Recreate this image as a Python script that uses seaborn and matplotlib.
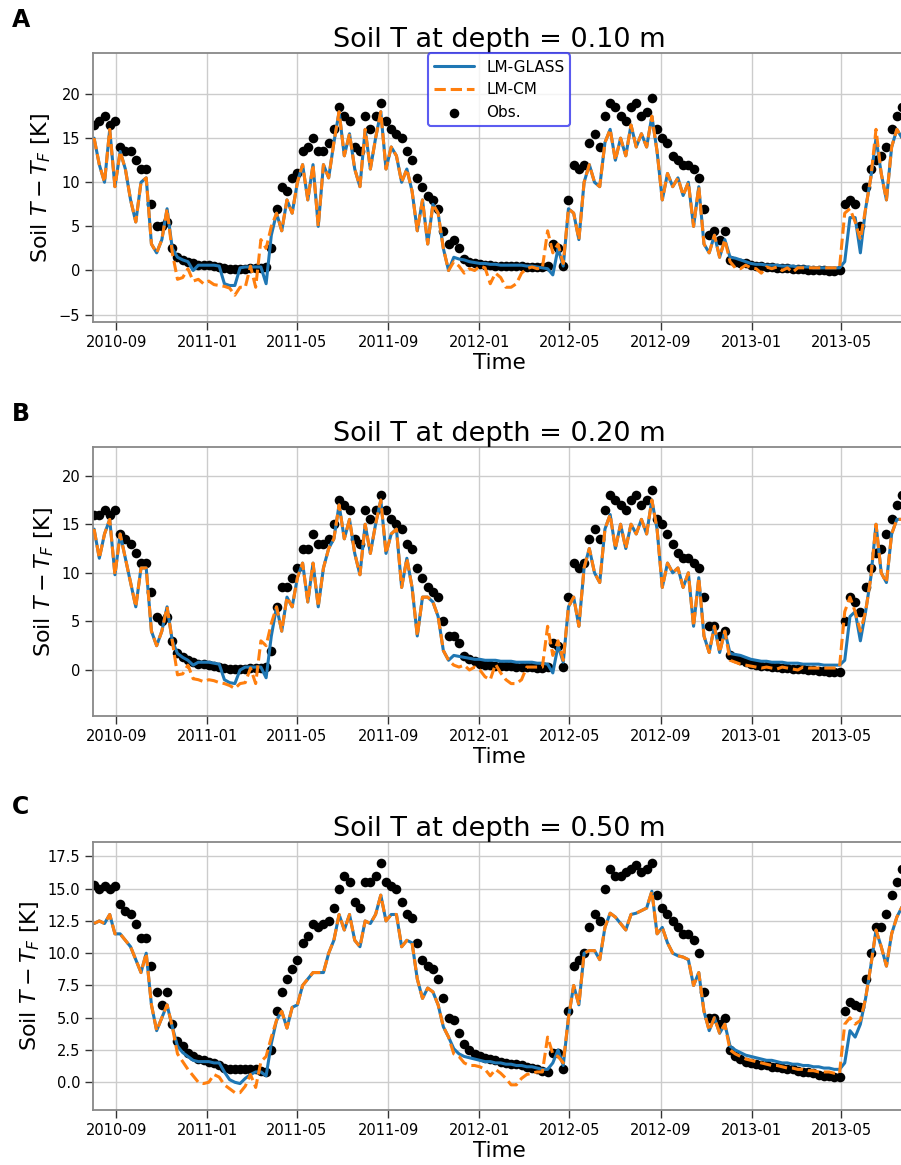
import numpy as np
import pandas as pd
import matplotlib
matplotlib.use("Agg")
import matplotlib.pyplot as plt
import matplotlib.dates as mdates
import seaborn as sns

# ---------------- data (weekly samples) ----------------
start_date = "2010-08-02"
step = "7D"
depths = ["0.10", "0.20", "0.50"]
panel_letters = ["A", "B", "C"]
series_labels = ["LM-GLASS", "LM-CM", "Obs."]

obs_A = [16.5, 17.0, 17.5, 16.5, 17.0, 14.0, 13.5, 13.5, 12.5, 11.5,
         11.5, 7.5, 5.0, 5.0, 5.5, 2.5, 1.5, 1.2, 1.0, 0.8,
         0.6, 0.6, 0.6, 0.5, 0.4, 0.3, 0.2, 0.2, 0.2, 0.2,
         0.3, 0.3, 0.3, 0.4, 2.5, 7.0, 9.5, 9.0, 10.5, 11.0,
         13.5, 14.0, 15.0, 13.5, 13.5, 14.5, 16.0, 18.5, 17.5, 17.0,
         14.0, 13.5, 17.5, 16.0, 17.5, 19.0, 17.0, 16.0, 15.5, 15.0,
         13.5, 12.5, 10.5, 9.5, 8.5, 8.0, 7.0, 4.5, 3.0, 3.5,
         2.5, 1.3, 1.0, 0.9, 0.7, 0.6, 0.6, 0.5, 0.5, 0.5,
         0.5, 0.5, 0.5, 0.4, 0.4, 0.4, 0.4, 0.5, 3.0, 2.5,
         0.5, 8.0, 12.0, 11.5, 12.0, 14.5, 15.5, 14.0, 17.5, 19.0,
         18.5, 17.5, 17.0, 18.5, 19.0, 17.5, 18.0, 19.5, 16.0, 15.0,
         14.5, 13.0, 12.5, 12.0, 12.0, 11.5, 10.5, 7.0, 4.0, 4.5,
         3.5, 4.5, 1.2, 1.0, 0.9, 0.8, 0.6, 0.5, 0.5, 0.4,
         0.4, 0.3, 0.3, 0.3, 0.2, 0.2, 0.2, 0.1, 0.1, 0.0,
         0.0, -0.1, -0.1, 0.0, 7.5, 8.0, 7.5, 5.0, 9.5, 11.5,
         12.5, 13.0, 14.0, 16.0, 17.5, 18.5]
glass_A = [15.0, 12.0, 10.0, 16.0, 9.5, 13.5, 11.5, 8.0, 5.5, 10.0,
           10.5, 3.0, 2.0, 3.5, 7.0, 2.5, 1.5, 1.2, 1.0, 0.0,
           0.6, 0.6, 0.6, 0.6, 0.5, -1.5, -1.7, -1.7, 0.3, 0.4,
           0.4, 0.4, 0.4, -1.5, 4.0, 6.5, 4.5, 8.0, 6.5, 10.0,
           12.0, 8.0, 12.0, 5.0, 12.0, 10.5, 14.5, 18.0, 13.0, 15.5,
           11.5, 9.5, 16.0, 11.5, 15.0, 18.0, 11.5, 14.0, 13.0, 10.0,
           11.5, 9.0, 4.5, 8.0, 3.0, 7.5, 6.5, 2.5, 0.0, 1.5,
           1.3, 1.2, 1.0, 0.9, 0.8, 0.8, 0.7, 0.7, 0.6, 0.6,
           0.6, 0.6, 0.6, 0.5, 0.5, 0.4, 0.3, 0.2, -0.5, 2.5,
           0.5, 7.0, 6.5, 3.5, 10.0, 12.0, 10.0, 9.5, 14.5, 16.0,
           12.5, 15.0, 13.0, 16.5, 14.0, 15.5, 14.0, 17.5, 13.5, 8.0,
           11.0, 9.5, 10.5, 8.5, 10.0, 5.0, 9.5, 3.0, 2.0, 4.0,
           1.5, 3.5, 1.5, 1.4, 1.2, 1.0, 0.8, 0.7, 0.7, 0.6,
           0.6, 0.6, 0.5, 0.5, 0.5, 0.4, 0.4, 0.4, 0.3, 0.3,
           0.3, 0.3, 0.3, 0.3, 1.0, 6.0, 6.0, 2.0, 7.0, 10.5,
           15.0, 11.0, 8.0, 14.0, 16.0, 15.0]
cm_A = [15.0, 12.0, 10.0, 16.0, 9.5, 13.5, 11.5, 8.0, 5.5, 10.0,
        10.5, 3.0, 2.0, 3.5, 7.0, 2.0, -1.0, -0.8, 0.2, -1.2,
        -1.0, -1.5, -1.2, -1.6, -1.7, -1.8, -2.0, -2.8, -1.9, -1.9,
        0.5, -1.9, 3.5, 2.5, 5.0, 6.5, 4.5, 8.0, 6.5, 10.0,
        12.0, 8.0, 12.0, 5.0, 12.0, 10.5, 14.5, 18.0, 13.0, 15.5,
        11.5, 9.5, 16.0, 11.5, 15.0, 18.0, 11.5, 14.0, 13.0, 10.0,
        11.5, 9.0, 4.5, 8.0, 3.0, 7.5, 6.5, 2.5, 0.0, 1.0,
        0.5, -0.3, 0.2, 0.0, 0.5, 0.3, -1.5, -0.3, -0.8, -1.9,
        -1.9, -1.5, -0.3, 0.2, 0.4, 0.2, 0.3, 4.5, 2.0, 3.0,
        0.8, 7.0, 6.5, 3.5, 10.0, 12.0, 10.0, 9.5, 14.5, 16.0,
        12.5, 15.0, 13.0, 16.5, 14.0, 15.5, 14.0, 17.5, 13.5, 8.0,
        11.0, 9.5, 10.5, 8.5, 10.0, 5.0, 9.5, 3.0, 2.0, 4.0,
        1.5, 3.5, 1.0, 0.3, 0.2, 0.6, 0.3, 0.2, -0.3, 0.4,
        0.2, 0.4, 0.0, 0.3, -0.2, 0.3, 0.3, 0.3, 0.3, 0.3,
        0.3, 0.3, 0.3, 0.3, 6.5, 7.0, 5.5, 3.5, 7.0, 10.5,
        16.0, 11.0, 8.0, 14.0, 16.0, 15.0]

obs_B = [16.0, 16.0, 16.5, 16.0, 16.5, 14.0, 13.5, 13.0, 12.0, 11.0,
         11.0, 8.0, 5.5, 5.0, 5.5, 3.0, 1.7, 1.3, 1.0, 0.8,
         0.6, 0.6, 0.5, 0.4, 0.3, 0.2, 0.1, 0.1, 0.1, 0.1,
         0.2, 0.2, 0.2, 0.3, 2.0, 6.5, 8.5, 8.5, 9.5, 10.5,
         12.5, 12.5, 14.0, 13.0, 13.0, 13.5, 15.0, 17.5, 17.0, 16.5,
         13.5, 13.0, 16.5, 15.5, 16.5, 18.0, 16.5, 15.5, 15.0, 14.5,
         13.0, 12.5, 10.5, 9.5, 8.5, 8.0, 7.5, 5.0, 3.5, 3.5,
         2.8, 1.4, 1.1, 0.9, 0.6, 0.5, 0.5, 0.4, 0.4, 0.4,
         0.4, 0.3, 0.3, 0.3, 0.3, 0.2, 0.2, 0.3, 2.8, 2.5,
         0.3, 7.5, 11.0, 10.5, 11.0, 13.5, 14.5, 13.5, 16.5, 18.0,
         17.5, 17.0, 16.5, 17.5, 18.0, 17.0, 17.5, 18.5, 15.5, 15.0,
         14.0, 13.0, 12.0, 11.5, 11.5, 11.0, 10.5, 7.5, 4.5, 4.5,
         3.5, 4.0, 1.5, 1.2, 1.0, 0.8, 0.6, 0.5, 0.4, 0.4,
         0.3, 0.3, 0.2, 0.2, 0.1, 0.1, 0.1, 0.0, 0.0, -0.1,
         -0.1, -0.2, -0.2, -0.2, 5.0, 7.5, 7.0, 6.0, 8.5, 10.5,
         12.0, 12.5, 14.0, 15.5, 17.0, 18.0]
glass_B = [14.5, 11.5, 14.0, 15.5, 9.8, 14.0, 11.5, 9.0, 6.5, 10.5,
           10.5, 4.0, 2.5, 4.0, 6.5, 3.0, 1.7, 1.3, 1.0, 0.5,
           0.8, 0.8, 0.8, 0.7, 0.6, -1.0, -1.3, -1.4, 0.0, 0.3,
           0.3, 0.3, 0.3, -0.8, 3.5, 6.5, 4.0, 7.5, 6.5, 9.5,
           11.0, 7.0, 11.0, 6.5, 10.5, 12.5, 13.5, 17.0, 13.5, 15.5,
           12.0, 9.8, 15.0, 12.0, 15.0, 17.5, 12.0, 14.0, 14.5, 8.5,
           11.5, 8.5, 3.5, 7.5, 7.5, 7.0, 5.5, 2.0, 1.0, 1.5,
           1.4, 1.3, 1.2, 1.1, 1.1, 1.0, 1.0, 1.0, 0.9, 0.9,
           0.9, 0.8, 0.8, 0.8, 0.8, 0.7, 0.7, 0.6, -0.3, 2.5,
           0.8, 6.5, 7.5, 4.5, 10.5, 12.5, 10.0, 9.0, 14.5, 16.0,
           12.5, 15.0, 12.5, 15.0, 14.0, 15.5, 14.0, 17.5, 14.5, 8.5,
           11.0, 10.0, 10.5, 8.5, 10.0, 4.5, 9.5, 3.5, 1.8, 4.5,
           1.8, 4.0, 1.7, 1.6, 1.5, 1.3, 1.1, 1.0, 0.9, 0.9,
           0.8, 0.8, 0.8, 0.7, 0.7, 0.7, 0.6, 0.6, 0.6, 0.6,
           0.5, 0.5, 0.5, 0.5, 1.0, 5.5, 6.0, 3.0, 6.0, 9.5,
           15.0, 10.0, 9.0, 14.0, 15.5, 15.5]
cm_B = [14.5, 11.5, 14.0, 15.5, 9.8, 14.0, 11.5, 9.0, 6.5, 10.5,
        10.5, 4.0, 2.5, 4.0, 6.5, 3.0, -0.5, -0.4, 0.5, -0.9,
        -1.0, -1.2, -1.0, -1.1, -1.3, -1.4, -1.6, -1.9, -1.4, -1.3,
        0.2, -1.4, 3.0, 2.5, 4.8, 6.5, 4.0, 7.5, 6.5, 9.5,
        11.0, 7.0, 11.0, 6.5, 10.5, 12.5, 13.5, 17.0, 13.5, 15.5,
        12.0, 9.8, 15.0, 12.0, 15.0, 17.5, 12.0, 14.0, 14.5, 8.5,
        11.5, 8.5, 3.5, 7.5, 7.5, 7.0, 5.5, 2.0, 1.0, 0.5,
        0.3, 0.5, 0.0, 0.3, 0.0, -0.7, -1.0, 0.6, -0.3, -1.0,
        -1.4, -1.4, -1.0, 0.3, 0.3, 0.3, 0.3, 4.5, 1.5, 3.0,
        1.0, 6.5, 7.5, 4.5, 10.5, 12.5, 10.0, 9.0, 14.5, 16.0,
        12.5, 15.0, 12.5, 15.0, 14.0, 15.5, 14.0, 17.5, 14.5, 8.5,
        11.0, 10.0, 10.5, 8.5, 10.0, 4.5, 9.5, 3.5, 1.8, 4.5,
        1.8, 4.0, 1.0, 0.8, 0.6, 0.5, 0.4, 0.3, 0.2, 0.3,
        0.2, 0.1, 0.3, 0.2, 0.1, 0.0, 0.3, 0.2, 0.2, 0.2,
        0.2, 0.2, 0.2, 0.3, 6.0, 7.5, 6.0, 4.0, 6.0, 9.5,
        15.0, 10.0, 9.0, 14.0, 15.5, 15.5]

obs_C = [15.3, 15.0, 15.2, 15.0, 15.2, 13.8, 13.3, 13.0, 12.3, 11.2,
         11.2, 9.0, 7.0, 6.0, 7.0, 4.5, 3.2, 2.8, 2.3, 2.0,
         1.8, 1.7, 1.6, 1.5, 1.3, 1.1, 1.0, 1.0, 1.0, 1.0,
         1.0, 1.0, 0.9, 0.8, 2.5, 5.5, 7.0, 8.0, 8.8, 9.5,
         10.8, 11.3, 12.3, 12.0, 12.3, 12.5, 13.5, 15.0, 16.0, 15.5,
         14.0, 13.5, 15.5, 15.5, 16.0, 17.0, 15.5, 15.2, 15.0, 14.0,
         13.0, 12.7, 10.8, 9.5, 9.0, 8.8, 8.0, 6.5, 5.0, 4.8,
         3.8, 3.0, 2.5, 2.2, 2.0, 1.9, 1.8, 1.7, 1.6, 1.5,
         1.4, 1.4, 1.3, 1.2, 1.1, 1.0, 0.9, 0.8, 2.3, 2.3,
         1.0, 5.5, 9.0, 9.5, 10.0, 12.0, 13.0, 12.5, 15.0, 16.5,
         16.0, 16.0, 16.3, 16.5, 16.8, 16.3, 16.5, 17.0, 14.5, 13.5,
         13.0, 12.5, 12.0, 11.5, 11.5, 11.0, 10.0, 7.0, 5.0, 5.0,
         4.5, 5.0, 2.5, 2.0, 1.8, 1.6, 1.5, 1.4, 1.3, 1.3,
         1.2, 1.2, 1.1, 1.0, 1.0, 0.9, 0.8, 0.8, 0.7, 0.6,
         0.5, 0.5, 0.4, 0.4, 5.5, 6.2, 6.0, 5.8, 8.0, 10.0,
         12.0, 12.0, 13.0, 14.5, 15.5, 16.5]
glass_C = [12.3, 12.5, 12.3, 13.0, 11.5, 11.5, 11.0, 10.5, 9.5, 8.5,
           10.0, 6.0, 4.0, 5.0, 6.0, 4.3, 2.8, 2.3, 2.0, 1.7,
           1.6, 1.6, 1.6, 1.5, 1.5, 0.8, 0.2, 0.0, -0.1, 0.3,
           0.6, 0.8, 0.8, 0.5, 3.0, 4.8, 5.5, 4.2, 5.8, 6.0,
           7.5, 8.0, 8.5, 8.5, 8.5, 10.0, 11.0, 13.0, 11.8, 13.0,
           11.0, 10.5, 12.5, 12.3, 13.0, 14.5, 12.5, 13.0, 13.0, 10.5,
           11.0, 10.8, 8.0, 6.5, 7.3, 7.0, 6.0, 4.3, 3.5, 2.6,
           2.2, 2.0, 1.9, 1.8, 1.7, 1.6, 1.6, 1.5, 1.5, 1.4,
           1.4, 1.3, 1.3, 1.2, 1.2, 1.1, 1.0, 1.0, 1.5, 2.5,
           1.3, 5.0, 7.5, 6.0, 10.0, 10.2, 10.2, 9.5, 12.0, 13.1,
           12.8, 12.3, 11.8, 13.0, 13.1, 13.3, 13.5, 14.8, 11.5, 12.0,
           10.8, 10.0, 9.8, 9.7, 9.5, 7.5, 8.5, 5.5, 4.0, 5.0,
           3.8, 4.5, 2.8, 2.5, 2.3, 2.1, 2.0, 1.9, 1.8, 1.7,
           1.7, 1.6, 1.5, 1.5, 1.4, 1.4, 1.3, 1.3, 1.2, 1.2,
           1.1, 1.1, 1.0, 1.0, 1.5, 4.0, 3.5, 4.5, 6.5, 9.0,
           11.8, 10.5, 9.0, 11.5, 12.8, 13.6]
cm_C = [12.3, 12.5, 12.3, 13.0, 11.5, 11.5, 11.0, 10.5, 9.5, 8.5,
        10.0, 6.0, 4.0, 5.0, 6.0, 4.3, 2.2, 1.6, 1.0, 0.5,
        0.0, -0.1, 0.0, 0.6, 0.4, -0.2, -0.5, -0.8, -0.8, -0.3,
        0.6, -0.4, 1.6, 2.0, 3.5, 4.8, 5.5, 4.2, 5.8, 6.0,
        7.5, 8.0, 8.5, 8.5, 8.5, 10.0, 11.0, 13.0, 11.8, 13.0,
        11.0, 10.5, 12.5, 12.3, 13.0, 14.5, 12.5, 13.0, 13.0, 10.5,
        11.0, 10.8, 8.0, 6.5, 7.3, 7.0, 6.0, 4.3, 3.5, 2.2,
        2.0, 1.5, 1.3, 1.3, 1.2, 1.0, 0.5, 1.0, 0.7, 0.3,
        -0.2, -0.2, 0.3, 0.6, 0.7, 0.8, 0.8, 3.5, 2.2, 2.0,
        1.5, 5.0, 7.5, 6.0, 10.0, 10.2, 10.2, 9.5, 12.0, 13.1,
        12.8, 12.3, 11.8, 13.0, 13.1, 13.3, 13.5, 14.8, 11.5, 12.0,
        10.8, 10.0, 9.8, 9.7, 9.5, 7.5, 8.5, 5.5, 4.0, 5.0,
        3.8, 4.5, 2.5, 2.2, 2.0, 1.8, 1.7, 1.6, 1.5, 1.4,
        1.3, 1.3, 1.2, 1.1, 1.1, 1.0, 1.0, 0.9, 0.9, 0.8,
        0.8, 0.8, 0.7, 0.7, 4.5, 5.0, 4.5, 4.8, 6.5, 9.0,
        11.8, 10.5, 9.0, 11.5, 12.8, 13.6]

# ---------------- styling / layout ----------------
sns.set_style("whitegrid", {"text.color": "black", "axes.labelcolor": "black",
                            "xtick.color": "black", "ytick.color": "black",
                            "xtick.bottom": True, "ytick.left": True})
plt.rcParams["font.family"] = ["DejaVu Sans"]

dates = pd.date_range(start_date, periods=len(obs_A), freq=step)
obs_all = [obs_A, obs_B, obs_C]
glass_all = [glass_A, glass_B, glass_C]
cm_all = [cm_A, cm_B, cm_C]
ylims = [(-5.8, 24.6), (-4.7, 22.9), (-2.15, 18.63)]
bottoms = [0.7239, 0.3857, 0.0472]
letter_y = [0.9771, 0.6389, 0.3013]

fig = plt.figure(figsize=(9.01, 11.65), dpi=100)
blue = "#1f77b4"
orange = "#ff7f0e"

for i in range(3):
    ax = fig.add_axes([0.1036, bottoms[i], 0.9009, 0.2302])
    sns.scatterplot(x=dates, y=obs_all[i], ax=ax, color="black", s=48,
                    linewidth=0, label=series_labels[2], zorder=1)
    sns.lineplot(x=dates, y=glass_all[i], ax=ax, color=blue, lw=2.2,
                 label=series_labels[0], zorder=2)
    sns.lineplot(x=dates, y=cm_all[i], ax=ax, color=orange, lw=2.2,
                 linestyle="--", label=series_labels[1], zorder=3)

    ax.set_xlim(pd.Timestamp("2010-08-01"), pd.Timestamp("2013-07-26"))
    ax.set_ylim(*ylims[i])
    ax.xaxis.set_major_locator(mdates.MonthLocator(bymonth=[1, 5, 9]))
    ax.xaxis.set_major_formatter(mdates.DateFormatter("%Y-%m"))

    ax.set_title(f"Soil T at depth = {depths[i]} m", fontsize=19.5, pad=4)
    ax.set_ylabel(r"Soil $T - T_F$ [K]", fontsize=16)
    ax.set_xlabel("Time", fontsize=15.5, labelpad=2)

    ax.grid(True, color="#cccccc", lw=1)
    for sp in ax.spines.values():
        sp.set_color("#888888")
        sp.set_linewidth(1.3)
    ax.tick_params(axis="both", which="major", direction="out", length=6,
                   width=1, color="#333333", labelsize=10.5, labelcolor="black",
                   bottom=True, left=True)

    leg = ax.get_legend()
    if leg is not None:
        leg.remove()
    if i == 0:
        h, l = ax.get_legend_handles_labels()
        order = [l.index(s) for s in series_labels]
        leg = ax.legend([h[j] for j in order], [l[j] for j in order],
                        loc="upper center", borderaxespad=0, fontsize=11,
                        handlelength=2.6, edgecolor="#3333ee", fancybox=True,
                        framealpha=0.8)
        leg.get_frame().set_linewidth(1.5)

    fig.text(0.0135, letter_y[i], panel_letters[i], fontsize=17,
             fontweight="bold", va="baseline")

fig.savefig("out.png", dpi=100, facecolor="white")
